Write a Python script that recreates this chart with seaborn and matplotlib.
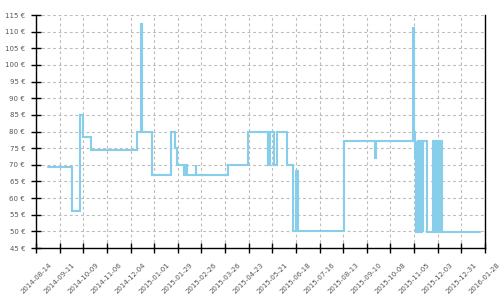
import matplotlib
matplotlib.use("Agg")
import matplotlib.pyplot as plt
import matplotlib.dates as mdates
from matplotlib.ticker import FuncFormatter, MultipleLocator
import seaborn as sns
import pandas as pd

dates = [
    "2014-08-28", "2014-09-26", "2014-10-05", "2014-10-09", "2014-10-18",
    "2014-12-12", "2014-12-17", "2014-12-18", "2014-12-30",
    "2015-01-21", "2015-01-26", "2015-01-28", "2015-02-05", "2015-02-07",
    "2015-02-09", "2015-02-19", "2015-02-20", "2015-03-30", "2015-04-22",
    "2015-05-16", "2015-05-18", "2015-05-23", "2015-05-27", "2015-06-07",
    "2015-06-14", "2015-06-18", "2015-06-21", "2015-08-14", "2015-09-20",
    "2015-09-21", "2015-11-04", "2015-11-05", "2015-11-06",
    "2015-11-07", "2015-11-08", "2015-11-09", "2015-11-10", "2015-11-11",
    "2015-11-12", "2015-11-13", "2015-11-14", "2015-11-15", "2015-11-16",
    "2015-11-20",
    "2015-11-27", "2015-11-28", "2015-11-29", "2015-11-30", "2015-12-01",
    "2015-12-02", "2015-12-03", "2015-12-04", "2015-12-05", "2015-12-06",
    "2015-12-07", "2015-12-08", "2015-12-09",
    "2016-01-22",
]
prices = [
    69.4, 56.1, 85, 78.3, 74.3,
    80, 112.2, 80, 67,
    80, 75, 70, 67, 70,
    67, 70, 67, 70, 80,
    70, 80, 70, 80, 70,
    50, 68, 50, 77, 72,
    77, 111, 80, 72,
    49.7, 77, 49.7, 77, 49.7,
    77, 49.7, 77, 49.7, 77,
    49.7,
    77, 49.7, 77, 49.7, 77,
    49.7, 77, 49.7, 77, 49.7,
    77, 49.7, 49.7,
    49.7,
]

x_start, x_end = "2014-08-14", "2016-01-28"
y_min, y_max = 45, 115

df = pd.DataFrame({"date": pd.to_datetime(dates), "price": prices})

sns.set_theme(style="white")
plt.rcParams["font.family"] = ["DejaVu Sans"]

fig = plt.figure(figsize=(5, 3), dpi=100)
ax = fig.add_axes([0.072, 0.1733, 0.898, 0.7767])

sns.lineplot(data=df, x="date", y="price", ax=ax, drawstyle="steps-post",
             color="#87CEEB", linewidth=1.5, estimator=None,
             solid_joinstyle="miter")

ax.set_xlim(pd.Timestamp(x_start), pd.Timestamp(x_end))
ax.set_ylim(y_min, y_max)
ax.set_xlabel("")
ax.set_ylabel("")

xticks = pd.date_range(x_start, x_end, freq="28D")
ax.set_xticks(xticks)
ax.xaxis.set_major_formatter(mdates.DateFormatter("%Y-%m-%d"))
ax.yaxis.set_major_locator(MultipleLocator(5))
ax.yaxis.set_major_formatter(FuncFormatter(lambda v, p: f"{int(v)} €"))

ax.grid(True, color="#bbbbbb", linestyle=(0, (2.5, 2.5)), linewidth=0.8)
ax.set_axisbelow(True)

for s in ["left", "bottom", "right"]:
    ax.spines[s].set_visible(True)
    ax.spines[s].set_color("black")
    ax.spines[s].set_linewidth(1.0)
ax.spines["top"].set_visible(False)

ax.tick_params(axis="both", which="major", direction="inout", length=6.5,
               width=1.0, color="black", labelsize=5, labelcolor="#555555")
ax.tick_params(axis="y", pad=4.5, right=False, left=True)
ax.tick_params(axis="x", pad=6.5, bottom=True)
for lab in ax.get_xticklabels():
    lab.set_rotation(45)
    lab.set_ha("center")

fig.savefig("out.png", dpi=100)
